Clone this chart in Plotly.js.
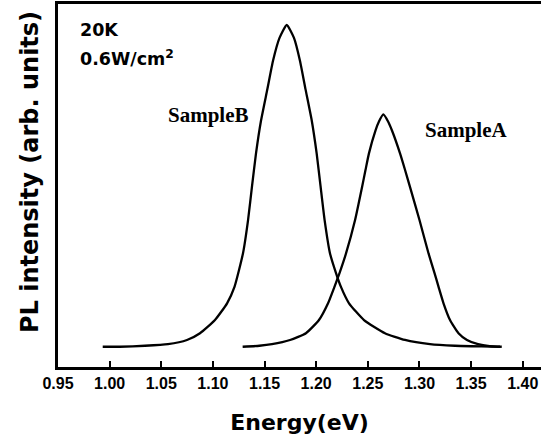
<!DOCTYPE html>
<html>
<head>
<meta charset="utf-8">
<script src="https://cdn.plot.ly/plotly-3.0.1.min.js"></script>
<style>html,body{margin:0;padding:0;background:#fff;}#chart{width:541px;height:442px;}</style>
</head>
<body>
<div id="chart"></div>
<script>
// Sample B spectrum (normalised to its peak)
const energyB = [0.9933, 1.0100, 1.0342, 1.0565, 1.0749, 1.0875, 1.1020, 1.1137, 1.1209, 1.1291, 1.1340, 1.1379, 1.1417, 1.1466, 1.1527, 1.1582, 1.1645, 1.1715, 1.1785, 1.1843, 1.1897, 1.1957, 1.2005, 1.2042, 1.2082, 1.2134, 1.2192, 1.2240, 1.2318, 1.2463, 1.2666, 1.2860, 1.3102, 1.3344, 1.3600, 1.3780];
const intensityB = [0, 0, 0.003, 0.008, 0.021, 0.042, 0.083, 0.135, 0.186, 0.29, 0.393, 0.50, 0.60, 0.703, 0.80, 0.889, 0.96, 1.0, 0.96, 0.889, 0.80, 0.703, 0.60, 0.50, 0.393, 0.29, 0.229, 0.186, 0.135, 0.083, 0.042, 0.021, 0.008, 0.003, 0.001, 0];
// Sample A spectrum
const energyA = [1.1288, 1.1450, 1.1572, 1.1747, 1.1901, 1.2027, 1.2115, 1.2177, 1.2226, 1.2289, 1.2376, 1.2444, 1.2478, 1.2511, 1.2574, 1.2608, 1.2650, 1.2696, 1.2734, 1.2812, 1.2860, 1.2909, 1.3001, 1.3088, 1.3146, 1.3185, 1.3233, 1.3296, 1.3378, 1.3460, 1.3567, 1.3680, 1.3797];
const intensityA = [0, 0.003, 0.008, 0.021, 0.042, 0.083, 0.135, 0.186, 0.229, 0.29, 0.393, 0.496, 0.55, 0.601, 0.672, 0.70, 0.722, 0.70, 0.672, 0.601, 0.55, 0.496, 0.393, 0.29, 0.229, 0.186, 0.135, 0.083, 0.042, 0.021, 0.008, 0.002, 0];
const tickValues = [0.95, 1.00, 1.05, 1.10, 1.15, 1.20, 1.25, 1.30, 1.35, 1.40];
const labelB = 'SampleB';
const labelA = 'SampleA';
const conditionTemp = '20K';
const conditionPower = '0.6W/cm<sup>2</sup>';
const xTitle = 'Energy(eV)';
const yTitle = 'PL intensity (arb. units)';

const lineStyle = {color: '#000', width: 2.3, shape: 'spline', smoothing: 0.5};
const traces = [
  {x: energyB, y: intensityB, type: 'scatter', mode: 'lines', name: labelB, line: lineStyle, hoverinfo: 'skip'},
  {x: energyA, y: intensityA, type: 'scatter', mode: 'lines', name: labelA, line: lineStyle, hoverinfo: 'skip'}
];

const sansBold = 'DejaVu Sans, sans-serif';
const serifBold = 'Liberation Serif, Times New Roman, serif';
const layout = {
  width: 541, height: 442,
  margin: {l: 58, r: 0, t: 4, b: 75, pad: 0},
  paper_bgcolor: '#fff', plot_bgcolor: '#fff',
  showlegend: false,
  xaxis: {
    range: [0.95, 1.4177],
    tickvals: tickValues,
    tickformat: '.2f',
    ticks: 'inside', ticklen: 6, tickwidth: 2, tickcolor: '#000',
    showline: true, linecolor: '#000', linewidth: 2.6, mirror: true,
    showgrid: false, zeroline: false,
    tickfont: {family: 'Liberation Sans, Arial, sans-serif', size: 16, color: '#000', weight: 'bold'},
    title: {text: xTitle, font: {family: sansBold, size: 22, color: '#000', weight: 'bold'}, standoff: 24}
  },
  yaxis: {
    range: [-0.063, 1.0653],
    showticklabels: false, ticks: '',
    showline: true, linecolor: '#000', linewidth: 2.6, mirror: false,
    showgrid: false, zeroline: false
  },
  annotations: [
    {xref: 'paper', yref: 'paper', x: -0.058, y: 0.537, xanchor: 'center', yanchor: 'middle', textangle: -90, showarrow: false, text: yTitle, font: {family: sansBold, size: 24, color: '#000', weight: 'bold'}},
    {xref: 'paper', yref: 'paper', x: 0.0414, y: 0.928, xanchor: 'left', yanchor: 'middle', showarrow: false, text: conditionTemp, font: {family: sansBold, size: 17.5, color: '#000', weight: 'bold'}},
    {xref: 'paper', yref: 'paper', x: 0.0414, y: 0.852, xanchor: 'left', yanchor: 'middle', showarrow: false, text: conditionPower, font: {family: sansBold, size: 17.5, color: '#000', weight: 'bold'}},
    {xref: 'paper', yref: 'paper', x: 0.3106, y: 0.694, xanchor: 'center', yanchor: 'middle', showarrow: false, text: labelB, font: {family: serifBold, size: 21, color: '#000', weight: 'bold'}},
    {xref: 'paper', yref: 'paper', x: 0.8458, y: 0.654, xanchor: 'center', yanchor: 'middle', showarrow: false, text: labelA, font: {family: serifBold, size: 21, color: '#000', weight: 'bold'}}
  ]
};

Plotly.newPlot('chart', traces, layout, {displayModeBar: false, staticPlot: true});
</script>
</body>
</html>
